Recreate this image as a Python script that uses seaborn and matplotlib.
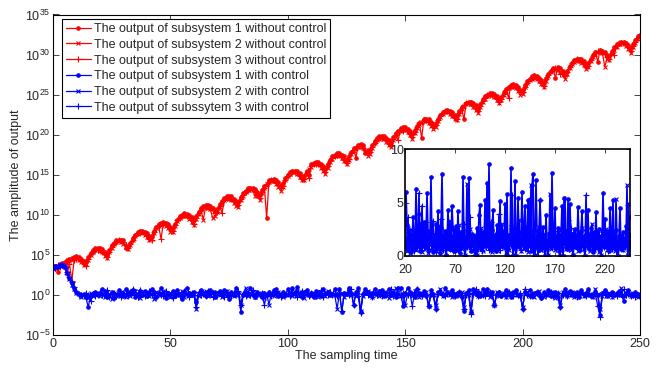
import numpy as np
import matplotlib
matplotlib.use("Agg")
import matplotlib.pyplot as plt
import seaborn as sns

# ---- data: log10 of the outputs without control ----
red1_log = [
    3.5, 3.6, 2.9, 3.9, 4.0, 4.1, 4.3, 4.5, 4.6, 4.7,
    4.8, 4.7, 4.5, 4.2, 4.1, 4.7, 5.2, 5.6, 5.8, 5.9,
    5.8, 5.7, 5.4, 5.0, 5.6, 6.2, 6.5, 6.8, 6.9, 6.9,
    6.8, 5.8, 6.1, 6.5, 7.1, 7.5, 7.8, 8.0, 8.0, 7.9,
    7.7, 7.4, 7.4, 8.0, 8.5, 8.8, 9.0, 9.1, 9.0, 8.9,
    8.5, 8.3, 8.9, 9.4, 9.8, 10.0, 10.2, 10.1, 10.0, 9.7,
    9.3, 9.8, 10.4, 10.8, 11.1, 11.2, 11.2, 11.1, 10.9, 10.5,
    10.7, 11.3, 11.7, 12.1, 12.3, 12.3, 12.3, 12.0, 11.7, 11.6,
    12.2, 12.7, 13.0, 13.3, 13.4, 13.4, 13.2, 12.9, 12.5, 13.1,
    13.6, 9.6, 14.3, 14.4, 14.5, 14.3, 14.1, 13.7, 14.0, 14.6,
    15.0, 15.3, 15.5, 15.5, 15.5, 15.2, 14.9, 14.9, 15.5, 15.0,
    16.3, 16.5, 16.6, 16.6, 16.4, 16.1, 15.7, 16.4, 16.9, 17.3,
    17.5, 17.7, 17.7, 17.5, 17.3, 16.9, 17.3, 17.8, 18.3, 17.1,
    18.7, 18.8, 18.7, 17.7, 18.1, 18.1, 18.7, 19.2, 19.6, 19.8,
    19.8, 19.8, 19.6, 19.3, 19.0, 19.7, 20.2, 20.5, 20.8, 20.9,
    20.9, 20.7, 20.5, 20.1, 20.6, 21.1, 21.5, 19.6, 22.0, 22.0,
    21.9, 21.6, 21.3, 21.4, 22.0, 22.5, 22.8, 23.0, 23.1, 23.0,
    22.8, 22.5, 22.3, 22.9, 23.4, 21.9, 24.0, 24.1, 24.1, 23.9,
    23.7, 23.2, 23.8, 24.4, 24.8, 25.0, 25.2, 25.2, 25.1, 24.8,
    24.5, 24.7, 25.3, 25.7, 26.0, 26.2, 26.3, 26.2, 26.0, 25.6,
    25.6, 26.2, 26.7, 27.0, 27.3, 27.4, 27.3, 27.1, 26.8, 26.5,
    27.1, 27.6, 28.0, 28.3, 27.1, 28.4, 28.3, 28.0, 27.6, 28.0,
    28.6, 29.0, 29.3, 29.5, 29.5, 29.4, 29.2, 28.8, 28.9, 29.5,
    30.0, 30.3, 29.1, 30.6, 30.5, 30.3, 30.0, 29.8, 30.4, 30.9,
    31.3, 31.5, 31.6, 31.6, 31.5, 31.2, 30.8, 31.3, 31.8, 32.3,
    32.5,
]
red2_log = [
    3.4, 3.3, 3.6, 3.6, 3.8, 3.9, 4.0, 4.2, 4.4, 4.5,
    4.6, 4.4, 4.1, 3.7, 3.8, 4.4, 5.0, 5.4, 5.6, 5.7,
    5.5, 5.3, 4.9, 4.6, 5.3, 5.9, 6.3, 6.6, 6.7, 6.6,
    6.4, 6.0, 5.7, 6.2, 6.8, 7.3, 7.6, 7.8, 7.7, 7.5,
    7.2, 6.8, 7.0, 7.7, 8.3, 8.6, 8.8, 8.8, 8.6, 8.3,
    7.9, 7.8, 8.6, 9.2, 9.6, 9.8, 9.9, 9.8, 9.5, 9.1,
    8.7, 9.5, 10.1, 10.6, 9.4, 11.0, 10.9, 10.7, 9.6, 9.9,
    10.3, 11.0, 11.5, 11.9, 12.1, 12.0, 11.9, 11.5, 11.1, 11.0,
    11.8, 12.4, 12.8, 13.1, 13.2, 13.1, 12.4, 12.4, 11.9, 12.7,
    13.3, 13.8, 14.1, 14.2, 14.2, 13.9, 13.5, 13.0, 13.5, 14.3,
    14.8, 15.1, 15.3, 15.3, 15.1, 14.7, 14.3, 14.3, 15.1, 15.7,
    16.0, 16.3, 16.4, 16.3, 15.9, 15.5, 15.1, 15.9, 16.6, 17.0,
    17.3, 17.5, 17.4, 17.1, 16.7, 16.3, 16.9, 17.6, 18.0, 18.3,
    18.5, 18.5, 18.3, 17.9, 17.4, 17.6, 18.4, 19.0, 19.3, 19.5,
    19.6, 19.5, 19.1, 18.7, 18.5, 19.3, 19.9, 20.3, 20.5, 20.6,
    20.6, 20.3, 19.9, 19.5, 20.2, 20.8, 21.3, 21.6, 21.7, 21.7,
    21.5, 21.1, 20.7, 21.0, 21.7, 22.2, 22.6, 22.8, 22.8, 22.6,
    22.3, 21.9, 21.8, 22.6, 23.2, 23.6, 23.8, 23.9, 23.8, 23.4,
    23.1, 22.7, 23.5, 24.1, 24.5, 24.8, 24.9, 24.9, 24.7, 24.3,
    23.9, 24.3, 25.0, 25.5, 25.8, 26.0, 26.0, 25.8, 25.5, 25.0,
    25.1, 25.9, 26.4, 26.8, 27.0, 27.1, 27.0, 26.7, 26.3, 25.9,
    26.7, 27.3, 27.8, 28.1, 28.2, 28.1, 27.8, 27.4, 27.0, 27.6,
    28.3, 28.8, 29.1, 29.2, 29.2, 29.0, 28.7, 28.2, 28.4, 29.2,
    29.7, 30.1, 30.3, 30.3, 30.2, 28.5, 29.5, 29.3, 30.1, 30.6,
    31.0, 31.3, 31.4, 31.3, 31.1, 30.7, 30.2, 30.9, 31.5, 32.0,
    32.3,
]
red3_log = [
    3.6, 3.4, 3.7, 3.5, 3.7, 3.3, 2.6, 3.9, 1.8, 4.3,
    4.5, 4.5, 4.3, 3.9, 3.6, 4.5, 5.1, 5.3, 5.6, 5.6,
    5.6, 5.4, 5.1, 4.7, 5.4, 6.0, 6.3, 6.6, 6.8, 6.7,
    6.6, 6.2, 5.9, 6.4, 6.9, 7.3, 7.7, 7.9, 7.8, 7.7,
    7.4, 7.0, 6.9, 7.8, 8.3, 8.6, 7.0, 8.9, 8.8, 8.6,
    8.2, 8.0, 8.7, 9.3, 9.6, 9.9, 10.0, 9.9, 9.7, 9.4,
    8.9, 9.6, 10.2, 10.6, 10.9, 11.0, 11.0, 10.8, 10.6, 10.2,
    10.4, 11.1, 10.2, 11.9, 12.1, 12.1, 12.0, 11.7, 11.3, 11.2,
    12.0, 12.5, 12.9, 13.1, 13.2, 13.2, 12.9, 12.6, 12.1, 12.8,
    13.4, 13.9, 14.1, 14.3, 14.3, 14.0, 13.7, 13.3, 13.6, 14.4,
    14.8, 15.2, 15.3, 15.4, 15.2, 14.9, 14.5, 14.5, 15.2, 14.6,
    16.1, 16.4, 16.4, 16.4, 16.1, 15.7, 15.3, 16.1, 16.7, 17.1,
    17.4, 17.5, 17.5, 17.2, 16.9, 16.5, 17.0, 17.7, 18.1, 18.4,
    18.6, 18.6, 18.4, 18.1, 17.7, 17.8, 18.5, 19.0, 19.4, 19.6,
    19.6, 19.6, 19.3, 18.9, 18.7, 19.4, 20.0, 19.3, 20.6, 20.5,
    20.7, 20.5, 20.1, 19.7, 20.3, 20.9, 21.4, 21.6, 21.8, 21.8,
    21.6, 21.3, 20.9, 21.2, 21.8, 22.3, 22.7, 22.9, 22.9, 22.7,
    22.5, 22.1, 22.0, 22.7, 23.3, 23.7, 23.9, 24.0, 23.9, 23.6,
    23.3, 22.9, 23.6, 24.2, 24.6, 24.9, 25.0, 25.0, 24.8, 24.5,
    24.1, 24.5, 25.1, 25.6, 24.6, 26.1, 26.1, 26.0, 25.7, 25.3,
    25.3, 26.0, 26.5, 26.9, 27.1, 27.2, 27.1, 26.9, 26.5, 26.1,
    26.9, 27.4, 27.9, 28.2, 28.3, 28.2, 27.6, 27.7, 27.3, 27.8,
    28.4, 28.9, 29.2, 29.4, 29.3, 29.2, 28.9, 28.5, 28.6, 29.3,
    29.8, 30.2, 30.4, 30.4, 30.3, 30.1, 29.7, 29.5, 30.2, 29.9,
    31.1, 31.4, 31.5, 31.4, 31.3, 30.9, 30.5, 31.1, 31.6, 32.1,
    32.4,
]

blue1 = [
    2500, 4000, 3200, 5000, 5600, 3500, 600, 150, 30, 8,
    2.5, 1.3, 0.9, 1.5, 0.5, 0.03, 0.8, 1.2, 2.1, 0.9,
    1.6, 6.0, 2.9, 0.6, 1.1, 2.4, 0.4, 1.0, 3.6, 1.8,
    0.7, 6.3, 2.2, 1.3, 3.9, 0.5, 1.4, 2.7, 1.0, 3.2,
    0.8, 1.9, 5.9, 2.3, 0.6, 1.7, 7.4, 1.2, 0.4, 2.0,
    1.1, 3.0, 0.7, 4.2, 1.5, 0.3, 2.6, 7.7, 1.9, 0.9,
    2.3, 0.14, 1.2, 4.3, 2.0, 0.7, 1.6, 4.7, 2.5, 0.5,
    1.3, 2.8, 0.9, 4.2, 1.0, 0.3, 2.2, 1.1, 7.4, 1.7,
    0.008, 0.9, 2.4, 1.5, 7.3, 1.0, 0.5, 2.1, 1.3, 0.6,
    1.8, 0.9, 2.6, 1.2, 3.8, 4.8, 0.7, 1.5, 2.2, 0.9,
    5.2, 1.4, 6.8, 2.0, 8.6, 1.1, 0.6, 2.4, 4.3, 1.0,
    1.7, 0.5, 2.9, 1.3, 0.8, 5.1, 1.6, 2.2, 0.9, 1.4,
    4.9, 1.1, 5.8, 0.007, 2.0, 1.2, 8.2, 1.8, 0.06, 2.5,
    7.0, 0.008, 1.5, 5.4, 2.2, 0.9, 1.7, 6.0, 1.3, 2.8,
    4.7, 0.7, 1.9, 5.2, 1.1, 2.4, 0.5, 6.6, 7.7, 0.04,
    1.6, 7.1, 2.3, 1.2, 0.6, 5.2, 1.9, 1.0, 2.7, 0.8,
    0.04, 3.8, 1.4, 0.02, 2.1, 1.7, 0.9, 7.8, 2.2, 1.3,
    4.5, 0.8, 1.5, 2.6, 0.5, 0.01, 2.0, 4.7, 0.008, 5.4,
    1.2, 2.3, 0.7, 5.3, 1.6, 4.9, 1.0, 2.1, 0.06, 1.4,
    2.5, 0.8, 1.3, 4.6, 1.9, 0.6, 2.3, 4.2, 1.1, 0.9,
    0.02, 2.4, 1.5, 4.3, 0.7, 1.8, 2.6, 1.0, 0.4, 2.2,
    1.3, 4.1, 0.8, 1.7, 2.5, 0.6, 0.03, 1.4, 5.9, 1.9,
    3.5, 0.9, 1.6, 2.3, 0.5, 4.5, 1.2, 2.0, 5.25, 0.8,
    1.5, 2.4, 1.0, 0.003, 1.9, 4.5, 0.7, 1.4, 2.2, 0.9,
    1.6, 2.8, 1.1, 0.2, 2.0, 3.6, 1.3, 0.9, 2.1, 1.2,
    0.8,
]
blue2 = [
    2000, 3000, 4200, 4800, 6000, 3000, 500, 100, 20, 5,
    2.0, 1.5, 0.6, 1.1, 0.9, 0.4, 1.6, 0.7, 1.3, 2.0,
    0.8, 1.4, 0.5, 2.6, 1.0, 0.3, 1.9, 0.7, 1.2, 2.4,
    1.0, 0.6, 2.1, 0.8, 1.5, 3.1, 0.9, 0.4, 1.8, 1.1,
    2.5, 0.7, 1.3, 0.3, 2.2, 1.0, 1.6, 3.0, 0.8, 1.2,
    0.5, 1.8, 2.4, 0.9, 1.1, 2.8, 0.6, 1.5, 0.9, 2.0,
    1.2, 0.02, 0.7, 2.2, 1.4, 3.3, 0.8, 1.0, 1.9, 0.6,
    2.4, 1.1, 0.5, 1.6, 2.9, 0.9, 1.3, 0.7, 2.1, 1.0,
    0.05, 1.5, 6.75, 0.8, 1.7, 2.5, 0.6, 1.2, 0.9, 2.0,
    0.4, 1.3, 0.06, 1.9, 0.8, 1.4, 2.6, 1.0, 0.5, 1.7,
    1.1, 2.3, 0.8, 1.5, 3.1, 0.9, 1.6, 0.4, 2.0, 1.2,
    0.7, 1.9, 1.1, 0.5, 2.4, 1.3, 0.8, 3.0, 1.0, 1.6,
    0.9, 0.02, 1.4, 2.0, 0.6, 1.2, 2.7, 0.9, 1.5, 0.7,
    2.1, 0.01, 0.8, 1.6, 3.4, 1.0, 0.5, 1.9, 1.2, 0.8,
    1.5, 2.6, 0.9, 0.4, 1.8, 1.1, 6.6, 2.3, 0.7, 1.4,
    0.05, 1.2, 1.9, 0.8, 2.7, 1.0, 0.6, 1.6, 1.3, 2.1,
    0.04, 1.5, 0.9, 0.05, 1.7, 5.8, 0.7, 1.4, 2.3, 1.0,
    0.6, 1.8, 1.2, 0.8, 2.5, 0.03, 1.3, 0.9, 0.01, 1.6,
    2.2, 0.7, 1.4, 1.0, 3.2, 1.2, 0.6, 1.9, 0.06, 2.3,
    0.8, 1.4, 2.0, 0.5, 1.1, 1.7, 0.9, 2.6, 1.3, 0.7,
    0.03, 1.6, 2.1, 0.8, 1.2, 0.5, 1.8, 3.0, 1.1, 0.6,
    1.4, 0.9, 2.2, 1.0, 0.4, 1.6, 0.05, 2.4, 1.2, 0.8,
    1.7, 2.5, 0.6, 1.3, 0.9, 1.9, 0.7, 1.1, 2.3, 1.0,
    0.5, 5.3, 1.4, 0.02, 0.8, 1.6, 1.1, 2.0, 0.6, 1.3,
    0.9, 1.5, 6.6, 0.7, 1.2, 2.1, 0.8, 1.6, 1.0, 0.5,
    1.1,
]
blue3 = [
    3000, 2200, 3800, 5200, 5000, 3500, 700, 200, 40, 10,
    3.0, 1.0, 1.1, 0.7, 1.6, 0.9, 0.2, 1.4, 0.8, 1.2,
    2.2, 0.9, 1.5, 3.6, 0.6, 1.3, 2.0, 0.8, 1.1, 0.5,
    1.7, 1.2, 0.9, 2.4, 5.9, 1.0, 0.6, 4.7, 1.3, 0.8,
    1.4, 3.2, 0.9, 1.6, 0.5, 2.0, 1.1, 0.7, 3.3, 1.5,
    0.9, 0.4, 1.7, 2.2, 0.8, 1.3, 3.5, 1.0, 0.6, 1.9,
    1.1, 0.03, 2.4, 0.9, 1.5, 0.7, 2.8, 1.2, 0.5, 1.6,
    0.9, 1.9, 1.3, 0.6, 2.3, 1.0, 0.8, 1.7, 1.2, 3.0,
    0.06, 1.3, 0.8, 2.0, 1.1, 3.6, 0.7, 1.4, 0.9, 1.8,
    0.06, 1.0, 1.6, 0.7, 2.2, 1.2, 0.9, 0.5, 1.9, 1.1,
    1.4, 0.8, 2.5, 1.0, 0.6, 1.7, 3.2, 0.9, 1.2, 0.7,
    2.0, 1.1, 0.8, 1.6, 3.9, 0.6, 1.3, 0.9, 2.2, 1.0,
    1.5, 0.7, 1.2, 0.01, 0.9, 1.8, 1.1, 5.7, 0.05, 1.3,
    0.8, 0.005, 1.4, 2.1, 0.9, 1.2, 0.6, 1.7, 1.0, 2.3,
    0.7, 1.3, 0.9, 1.9, 5.25, 0.8, 1.5, 1.1, 0.6, 1.8,
    1.2, 0.9, 2.0, 0.04, 1.4, 5.25, 1.0, 0.7, 1.6, 1.1,
    0.04, 1.3, 0.7, 0.02, 1.2, 2.2, 1.0, 0.8, 1.5, 1.9,
    1.0, 0.7, 1.4, 2.3, 0.9, 0.02, 1.1, 1.6, 0.004, 1.3,
    5.3, 0.8, 1.5, 1.1, 0.7, 1.8, 2.6, 1.0, 0.05, 1.2,
    1.6, 0.9, 1.2, 0.7, 2.1, 1.3, 0.8, 1.5, 1.0, 1.9,
    0.02, 5.7, 1.1, 0.8, 1.4, 0.9, 2.0, 1.2, 0.6, 1.5,
    0.9, 1.3, 2.2, 0.7, 1.1, 1.8, 0.03, 1.0, 1.4, 0.8,
    1.2, 1.6, 0.9, 0.5, 1.3, 2.1, 1.0, 0.7, 1.5, 1.1,
    0.8, 1.4, 0.04, 0.002, 1.2, 0.9, 1.6, 1.0, 0.7, 1.3,
    0.8, 1.2, 1.5, 4.8, 0.9, 1.4, 0.7, 1.1, 0.6, 1.0,
    0.7,
]

labels = [
    "The output of subsystem 1 without control",
    "The output of subsystem 2 without control",
    "The output of subsystem 3 without control",
    "The output of subsystem 1 with control",
    "The output of subsystem 2 with control",
    "The output of subssytem 3 with control",
]
x_ticks = [0, 50, 100, 150, 200, 250]
y_exponents = [-5, 0, 5, 10, 15, 20, 25, 30, 35]
inset_x_ticks = [20, 70, 120, 170, 220]
inset_y_ticks = [0, 5, 10]
inset_start = 20

# ---- style ----
sns.set_style("ticks")
plt.rcParams["font.family"] = ["Liberation Sans", "DejaVu Sans"]
plt.rcParams["mathtext.default"] = "regular"
plt.rcParams["xtick.direction"] = "in"
plt.rcParams["ytick.direction"] = "in"

RED = "#ff0000"
BLUE = "#0000ff"
FS = 9

fig = plt.figure(figsize=(6.62, 3.68), dpi=100)
ax = fig.add_axes([53 / 662, 1 - 335 / 368, (640 - 53) / 662, (335 - 14.5) / 368])

series = [
    (10.0 ** np.array(red1_log), RED, "."),
    (10.0 ** np.array(red2_log), RED, "x"),
    (10.0 ** np.array(red3_log), RED, "+"),
    (np.array(blue1, dtype=float), BLUE, "."),
    (np.array(blue2, dtype=float), BLUE, "x"),
    (np.array(blue3, dtype=float), BLUE, "+"),
]
msizes = {".": 5, "x": 3.5, "+": 4.5}
for (vals, col, mk), lab in zip(series, labels):
    tt = np.arange(len(vals))
    sns.lineplot(x=tt, y=vals, ax=ax, color=col, marker=mk, markersize=msizes[mk],
                 markeredgewidth=0.8, markeredgecolor=col, linewidth=0.9,
                 label=lab, estimator=None, sort=False)

ax.set_yscale("log")
ax.set_xlim(0, 250)
ax.set_ylim(1e-5, 1e35)
ax.set_xticks(x_ticks)
ax.set_xticklabels([str(v) for v in x_ticks], fontsize=FS)
ax.set_yticks([10.0 ** e for e in y_exponents])
ax.set_yticklabels([r"$10^{%d}$" % e for e in y_exponents], fontsize=FS)
ax.yaxis.set_minor_locator(matplotlib.ticker.NullLocator())
ax.tick_params(which="both", top=True, right=True, length=4, width=0.6, pad=2)
for s in ax.spines.values():
    s.set_visible(True)
    s.set_linewidth(0.8)
    s.set_color("black")
ax.set_xlabel("The sampling time", fontsize=FS, labelpad=0)
ax.set_ylabel("The amplitude of output", fontsize=FS, labelpad=2)

leg = ax.legend(loc="upper left", bbox_to_anchor=(0.015, 0.985), fontsize=FS,
                frameon=True, fancybox=False, edgecolor="black", framealpha=1,
                borderpad=0.3, labelspacing=0.3, handlelength=2.0,
                handletextpad=0.3, borderaxespad=0)
leg.get_frame().set_linewidth(0.8)

# ---- inset ----
ax2 = fig.add_axes([405 / 662, 1 - 256 / 368, (630 - 405) / 662, (256 - 149) / 368])
for vals, col, mk in series[3:]:
    tt = np.arange(len(vals))[inset_start:]
    sns.lineplot(x=tt, y=vals[inset_start:], ax=ax2, color=col, marker=mk,
                 markersize=msizes[mk], markeredgewidth=0.8, markeredgecolor=col,
                 linewidth=1.2, estimator=None, sort=False, legend=False)
ax2.set_xlim(20, 245)
ax2.set_ylim(0, 10)
ax2.set_xticks(inset_x_ticks)
ax2.set_xticklabels([str(v) for v in inset_x_ticks], fontsize=FS)
ax2.set_yticks(inset_y_ticks)
ax2.set_yticklabels([str(v) for v in inset_y_ticks], fontsize=FS)
ax2.tick_params(axis="x", top=True, length=3, width=0.6, pad=6)
ax2.tick_params(axis="y", right=True, length=3, width=0.6, pad=1)
ax2.set_xlabel("")
ax2.set_ylabel("")
for s in ax2.spines.values():
    s.set_visible(True)
    s.set_linewidth(1.2)
    s.set_color("black")
ax2.set_facecolor("white")

fig.savefig("out.png", dpi=100)
